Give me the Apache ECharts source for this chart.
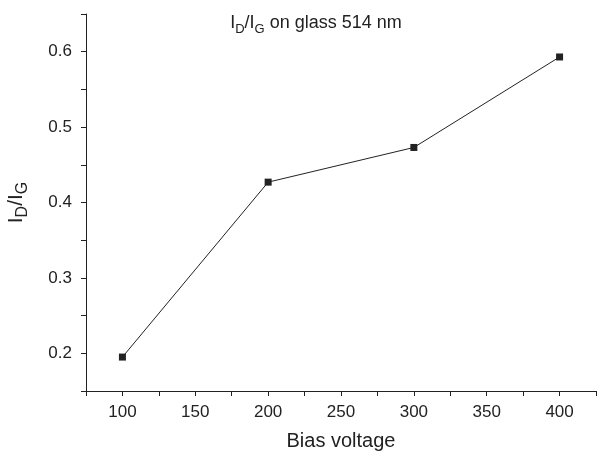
<!DOCTYPE html>
<html>
<head>
<meta charset="utf-8">
<script src="https://cdn.jsdelivr.net/npm/echarts@6/dist/echarts.min.js"></script>
<style>
  html, body { margin: 0; padding: 0; background: #fff; }
  #chart { width: 597px; height: 451px; }
</style>
</head>
<body>
<div id="chart"></div>
<script>
// Bias voltage (V) and the measured D/G intensity ratio
const biasVoltage = [100, 200, 300, 400];
const ratioDG = [0.195, 0.427, 0.473, 0.593];

const FONT = '"Liberation Sans", Arial, Helvetica, sans-serif';
const INK = '#222';

const chart = echarts.init(document.getElementById('chart'), null, { renderer: 'canvas' });

chart.setOption({
  animation: false,
  backgroundColor: '#fff',
  grid: { left: 86, right: 1, top: 14, bottom: 60, containLabel: false, outerBoundsMode: 'none' },
  title: {
    text: '{n|I}{s|D}{n|/I}{s|G}{n| on glass 514 nm}',
    left: 311,
    top: 9,
    textAlign: 'center',
    textStyle: {
      fontSize: 18,
      fontWeight: 'normal',
      rich: {
        n: { fontFamily: FONT, color: INK, fontSize: 18, fontWeight: 'normal', lineHeight: 22, verticalAlign: 'top' },
        s: { fontFamily: FONT, color: INK, fontSize: 13, fontWeight: 'normal', lineHeight: 22, verticalAlign: 'top', padding: [9, 0, 0, 0] }
      }
    }
  },
  xAxis: {
    type: 'value',
    min: 75,
    max: 425,
    interval: 25,
    name: 'Bias voltage',
    nameLocation: 'middle',
    nameGap: 40,
    nameTextStyle: { fontFamily: FONT, fontSize: 20, color: INK },
    axisLine: { show: true, lineStyle: { color: INK, width: 1 } },
    axisTick: { show: true, inside: false, length: 5, lineStyle: { color: INK } },
    splitLine: { show: false },
    axisLabel: {
      fontFamily: FONT, fontSize: 17, color: INK, margin: 13,
      showMinLabel: true, showMaxLabel: true,
      formatter: v => (Math.round(v) % 50 === 0 ? String(v) : '')
    }
  },
  yAxis: {
    type: 'value',
    min: 0.15,
    max: 0.65,
    interval: 0.05,
    name: '{n|I}{s|D}{n|/I}{s|G}',
    nameLocation: 'middle',
    nameRotate: 90,
    nameGap: 56,
    nameTextStyle: {
      fontSize: 21,
      rich: {
        n: { fontFamily: FONT, color: INK, fontSize: 21, lineHeight: 24, verticalAlign: 'top' },
        s: { fontFamily: FONT, color: INK, fontSize: 16, lineHeight: 24, verticalAlign: 'top', padding: [9, 0, 0, 0] }
      }
    },
    axisLine: { show: true, lineStyle: { color: INK, width: 1 } },
    axisTick: { show: true, inside: false, length: 5, lineStyle: { color: INK } },
    splitLine: { show: false },
    axisLabel: {
      fontFamily: FONT, fontSize: 17, color: INK, margin: 14,
      formatter: v => (Math.round(v * 100) % 10 === 0 ? v.toFixed(1) : '')
    }
  },
  series: [{
    type: 'line',
    data: biasVoltage.map((x, i) => [x, ratioDG[i]]),
    symbol: 'rect',
    symbolSize: 7,
    showAllSymbol: true,
    lineStyle: { color: INK, width: 1 },
    itemStyle: { color: INK, borderWidth: 0 }
  }]
});
</script>
</body>
</html>
